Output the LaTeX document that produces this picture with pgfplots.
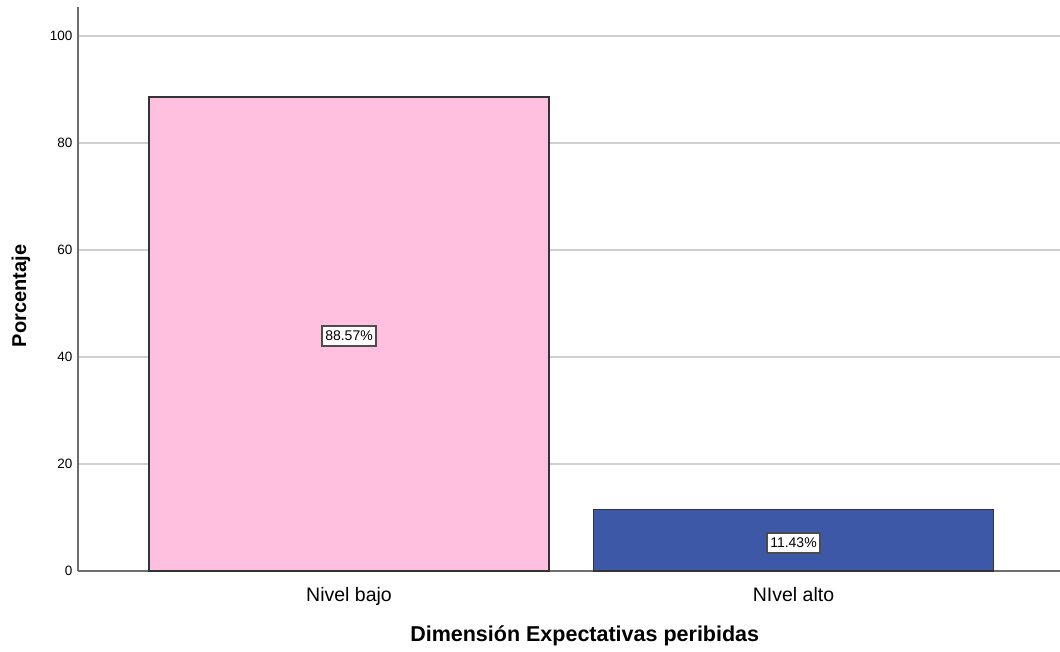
\documentclass[border=0pt]{standalone}
\usepackage{pgfplots}
\pgfplotsset{compat=1.18}
\usepackage{fontspec}
\setmainfont{Liberation Sans}
\definecolor{pinkbar}{RGB}{255,192,224}
\definecolor{bluebar}{RGB}{62,88,168}
\definecolor{gridc}{RGB}{208,208,208}
\definecolor{axisc}{RGB}{110,110,110}
\begin{document}
\begin{tikzpicture}[x=1pt,y=1pt]
\begin{axis}[
  at={(78pt,80pt)}, anchor=south west,
  scale only axis, width=982pt, height=564pt,
  xmin=-0.6097, xmax=1.5996,
  ymin=0, ymax=105.4,
  axis x line*=bottom, axis y line*=left,
  axis line style={axisc, line width=1.6pt, -},
  xtick={0,1}, xticklabels={Nivel bajo, NIvel alto},
  ytick={0,20,40,60,80,100},
  major tick length=0pt,
  ymajorgrids, grid style={gridc, line width=1.6pt},
  yticklabel style={font=\fontsize{13.5}{15}\selectfont, xshift=-2pt},
  xticklabel style={font=\fontsize{19.5}{23}\selectfont, yshift=-13pt},
  /pgf/number format/assume math mode=true,
  xlabel={\bfseries Dimensión Expectativas peribidas},
  ylabel={\bfseries Porcentaje},
  xlabel style={font=\fontsize{21.5}{25}\selectfont, at={(axis description cs:0.516,0)}, anchor=center, yshift=-65pt},
  ylabel style={font=\fontsize{20}{24}\selectfont, at={(axis description cs:0,0.4876)}, anchor=center, rotate=0, yshift=57pt},
  clip=false,
]
\addplot[ybar, bar shift=0pt, bar width=0.9, fill=pinkbar, draw=black!80, line width=1.3pt] coordinates {(0,88.57)};
\addplot[ybar, bar shift=0pt, bar width=0.9, fill=bluebar, draw=black!80, line width=1.3pt] coordinates {(1,11.43)};
\addplot[only marks, mark=none, point meta=explicit symbolic, nodes near coords,
  nodes near coords style={anchor=center, fill=white, draw=black!70, line width=1.6pt, inner xsep=3pt, inner ysep=5pt, font=\fontsize{14}{16}\selectfont}]
  coordinates {(0,43.9) [88.57\%] (1,5.2) [11.43\%]};
\end{axis}
\pgfresetboundingbox
\path (0,0) rectangle (1060pt,651pt);
\end{tikzpicture}
\end{document}
